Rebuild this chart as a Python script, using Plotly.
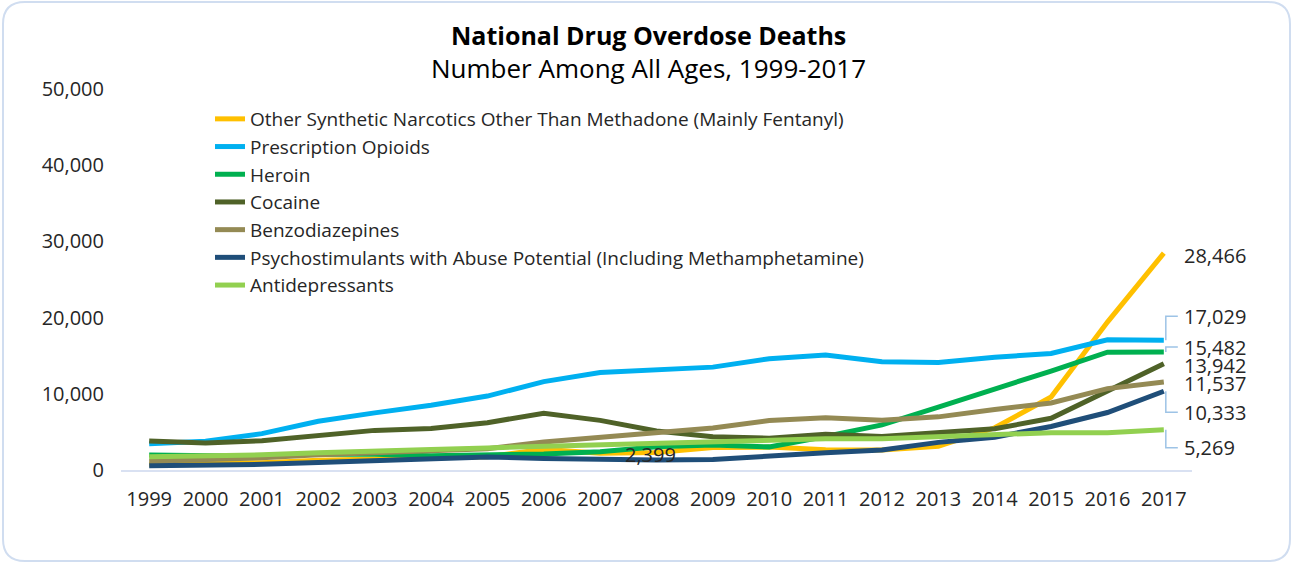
import plotly.graph_objects as go

years = [str(y) for y in range(1999, 2018)]
synthetic = [730, 782, 957, 1295, 1400, 1664, 1742, 2707, 2213, 2306, 2946, 3007, 2666, 2628, 3105, 5544, 9580, 19413, 28466]
prescription = [3442, 3785, 4770, 6400, 7500, 8500, 9700, 11600, 12800, 13200, 13500, 14600, 15100, 14200, 14100, 14800, 15300, 17087, 17029]
heroin = [1960, 1842, 1779, 2089, 2080, 1878, 2009, 2088, 2399, 3041, 3278, 3036, 4397, 5925, 8257, 10574, 12989, 15469, 15482]
cocaine = [3822, 3544, 3833, 4599, 5199, 5443, 6208, 7448, 6512, 5129, 4350, 4183, 4681, 4404, 4944, 5415, 6784, 10375, 13942]
benzo = [1135, 1298, 1594, 2004, 2248, 2533, 2802, 3665, 4300, 4900, 5500, 6497, 6872, 6524, 6973, 7945, 8791, 10684, 11537]
psycho = [547, 578, 742, 976, 1244, 1364, 1693, 1522, 1373, 1302, 1365, 1854, 2266, 2635, 3627, 4298, 5716, 7542, 10333]
antidep = [1749, 1803, 1986, 2257, 2400, 2700, 2900, 3100, 3300, 3500, 3600, 3900, 4100, 4100, 4400, 4700, 4900, 4900, 5269]

names = [
    "Other Synthetic Narcotics Other Than Methadone (Mainly Fentanyl)",
    "Prescription Opioids",
    "Heroin",
    "Cocaine",
    "Benzodiazepines",
    "Psychostimulants with Abuse Potential (Including Methamphetamine)",
    "Antidepressants",
]
series = [synthetic, prescription, heroin, cocaine, benzo, psycho, antidep]
colors = ["#FFC000", "#00B0F0", "#00B050", "#4F6228", "#948A54", "#1F4E79", "#92D050"]

# end label offsets (pixels): yshift for label, leader bracket drop (None = no leader)
label_shift = [-2, 24, 5, -2, -1, -21, -18]
leader = [None, 24, 5, None, None, -21, -18]

W, H = 1296, 564
ML, MR, MT, MB = 121, 104, 89, 94
PW, PH = W - ML - MR, H - MT - MB
FONT = "Open Sans"
TXT = "#262626"


def px(x):
    return (x - ML) / PW


def py(y):
    return (H - MB - y) / PH


fig = go.Figure()
for i, (nm, vals, col) in enumerate(zip(names, series, colors)):
    fig.add_trace(go.Scatter(
        x=years, y=vals, name=nm, mode="lines",
        line=dict(color=col, width=5),
        legendgroup=f"g{i}",
    ))

last = len(years) - 1
annotations = []
shapes = []
for i, vals in enumerate(series):
    annotations.append(dict(
        x=last, y=vals[-1], xref="x", yref="y",
        text=f"{vals[-1]:,}", showarrow=False,
        xanchor="left", yanchor="middle", xshift=18, yshift=label_shift[i],
        font=dict(family=FONT, size=20, color=TXT),
    ))
    if leader[i] is not None:
        d = leader[i]
        shapes.append(dict(
            type="path", xref="x", yref="y",
            xsizemode="pixel", ysizemode="pixel",
            xanchor=last, yanchor=vals[-1],
            path=f"M 2 0 L 2 {d} L 14 {d}",
            line=dict(color="#9DC3E6", width=1.5),
        ))

# data label 2,399
annotations.append(dict(
    x=9, y=heroin[8], xref="x", yref="y",
    text=f"{heroin[8]:,}", showarrow=False,
    xanchor="center", yanchor="middle", xshift=-6, yshift=-3,
    font=dict(family=FONT, size=20, color=TXT),
))

# titles
annotations.append(dict(
    x=px(648), y=py(35), xref="paper", yref="paper",
    text="<b>National Drug Overdose Deaths</b>", showarrow=False,
    xanchor="center", yanchor="middle",
    font=dict(family=FONT, size=25, color="#000000"),
))
annotations.append(dict(
    x=px(648), y=py(68), xref="paper", yref="paper",
    text="Number Among All Ages, 1999-2017", showarrow=False,
    xanchor="center", yanchor="middle",
    font=dict(family=FONT, size=26, color="#000000"),
))

# rounded border
x0, x1, y0, y1, r = 3, 1290, 2, 561, 22
pts = (
    f"M {px(x0 + r)},{py(y0)} L {px(x1 - r)},{py(y0)} "
    f"Q {px(x1)},{py(y0)} {px(x1)},{py(y0 + r)} "
    f"L {px(x1)},{py(y1 - r)} Q {px(x1)},{py(y1)} {px(x1 - r)},{py(y1)} "
    f"L {px(x0 + r)},{py(y1)} Q {px(x0)},{py(y1)} {px(x0)},{py(y1 - r)} "
    f"L {px(x0)},{py(y0 + r)} Q {px(x0)},{py(y0)} {px(x0 + r)},{py(y0)} Z"
)
shapes.append(dict(type="path", xref="paper", yref="paper", path=pts,
                   line=dict(color="#D0DDF0", width=2), layer="below"))

fig.update_layout(
    width=W, height=H,
    margin=dict(l=ML, r=MR, t=MT, b=MB, autoexpand=False),
    paper_bgcolor="white", plot_bgcolor="white",
    font=dict(family=FONT, size=20, color=TXT),
    showlegend=True,
    legend=dict(
        x=px(210), y=py(100), xanchor="left", yanchor="top",
        font=dict(family=FONT, size=19, color=TXT),
        tracegroupgap=0, bgcolor="rgba(0,0,0,0)",
        itemclick=False,
    ),
    annotations=annotations,
    shapes=shapes,
    xaxis=dict(
        type="category", range=[-0.5, len(years) - 0.5], autorange=False,
        showgrid=False, zeroline=False,
        showline=True, linecolor="#D9E1F2", linewidth=2,
        ticks="", ticklabelstandoff=10,
        tickfont=dict(family=FONT, size=20, color=TXT),
        fixedrange=True,
    ),
    yaxis=dict(
        range=[0, 50000], tickvals=[0, 10000, 20000, 30000, 40000, 50000],
        tickformat=",", showgrid=False, zeroline=False, showline=False,
        ticks="", ticklabelstandoff=16,
        tickfont=dict(family=FONT, size=20, color=TXT),
        fixedrange=True,
    ),
)

fig.write_html("out.html")
